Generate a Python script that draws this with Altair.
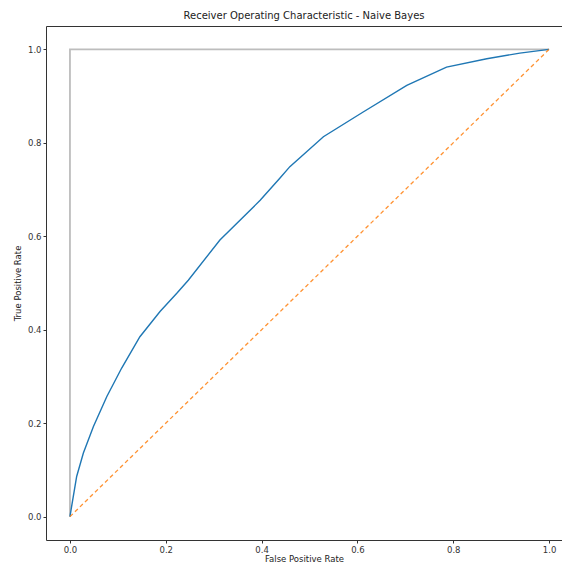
import altair as alt
import pandas as pd

fpr = [0.0, 0.0035, 0.014, 0.028, 0.049, 0.077, 0.108, 0.146, 0.188, 0.223, 0.247,
       0.313, 0.397, 0.438, 0.459, 0.529, 0.612, 0.703, 0.786, 0.870, 0.939, 1.0]
tpr = [0.0, 0.022, 0.086, 0.136, 0.193, 0.257, 0.318, 0.385, 0.439, 0.478, 0.506,
       0.592, 0.677, 0.724, 0.749, 0.813, 0.866, 0.923, 0.962, 0.980, 0.992, 1.0]

chance_x = [0.0, 1.0]
chance_y = [0.0, 1.0]

perfect_x = [0.0, 0.0, 1.0]
perfect_y = [0.0, 1.0, 1.0]

tick_values = [0.0, 0.2, 0.4, 0.6, 0.8, 1.0]

roc_df = pd.DataFrame({"fpr": fpr, "tpr": tpr, "o": list(range(len(fpr)))})
chance_df = pd.DataFrame({"fpr": chance_x, "tpr": chance_y, "o": [0, 1]})
perfect_df = pd.DataFrame({"fpr": perfect_x, "tpr": perfect_y, "o": [0, 1, 2]})

xscale = alt.Scale(domain=[-0.05, 1.027], nice=False, zero=False)
yscale = alt.Scale(domain=[-0.05, 1.05], nice=False, zero=False)

# perfect-classifier line; also carries the top spine
perfect = alt.Chart(perfect_df).mark_line(color="#bdbdbd", strokeWidth=1.8, clip=True).encode(
    x=alt.X("fpr:Q", scale=xscale,
            axis=alt.Axis(orient="top", labels=False, ticks=False, title=None,
                          domain=True, grid=False)),
    y=alt.Y("tpr:Q", scale=yscale, axis=None),
    order="o:Q")

roc = alt.Chart(roc_df).mark_line(color="#1f77b4", strokeWidth=1.4, clip=True).encode(
    x=alt.X("fpr:Q", scale=xscale,
            axis=alt.Axis(title="False Positive Rate", values=tick_values, format=".1f",
                          grid=False, domain=True)),
    y=alt.Y("tpr:Q", scale=yscale,
            axis=alt.Axis(title="True Positive Rate", values=tick_values, format=".1f",
                          grid=False, domain=True)),
    order="o:Q")

chance = alt.Chart(chance_df).mark_line(color="#ff7f0e", strokeWidth=1.3, strokeDash=[4, 3],
                                        clip=True, opacity=0.85).encode(
    x=alt.X("fpr:Q", scale=xscale, axis=None),
    y=alt.Y("tpr:Q", scale=yscale, axis=None),
    order="o:Q")

chart = alt.layer(perfect, roc, chance).resolve_axis(
    x="independent", y="independent"
).properties(
    width=516,
    height=514,
    title=alt.TitleParams("Receiver Operating Characteristic - Naive Bayes",
                          fontSize=10, fontWeight="normal", font="DejaVu Sans",
                          color="#222", offset=5),
    autosize=alt.AutoSizeParams(type="none"),
    padding={"left": 38, "top": 18, "right": 0, "bottom": 23},
).configure_view(
    strokeWidth=0
).configure_axis(
    domainColor="#333",
    domainWidth=1,
    tickColor="#333",
    tickSize=3,
    labelFont="DejaVu Sans",
    labelFontSize=8.5,
    labelColor="#333",
    labelPadding=2,
    titleFont="DejaVu Sans",
    titleFontSize=8.5,
    titleFontWeight="normal",
    titleColor="#222",
).configure_axisX(
    titlePadding=1,
    labelPadding=2,
).configure_axisY(
    titlePadding=5,
)

chart.save("out.html", embed_options={"renderer": "svg", "actions": False})
